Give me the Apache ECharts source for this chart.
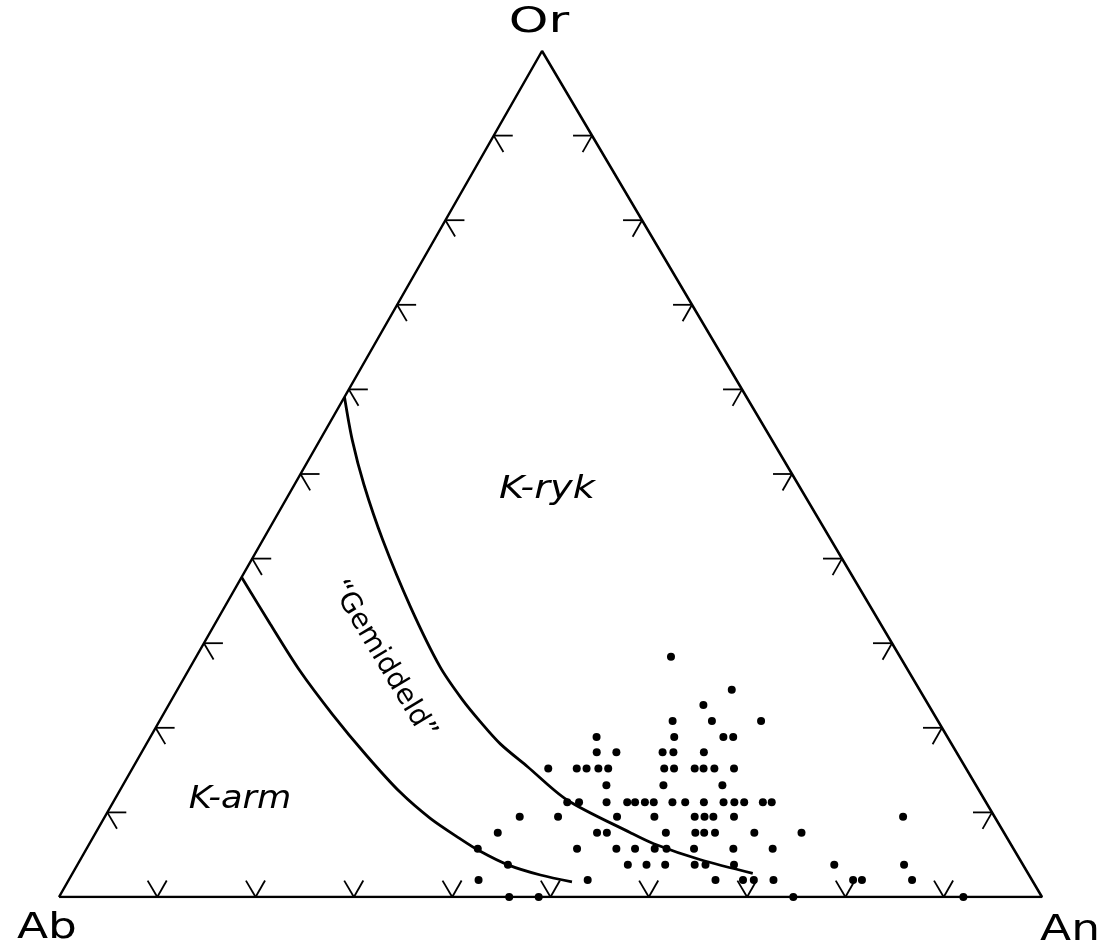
<!DOCTYPE html>
<html><head><meta charset="utf-8">
<script src="https://cdn.jsdelivr.net/npm/echarts@6/dist/echarts.min.js"></script>
<style>html,body{margin:0;padding:0;background:#fff}#c{width:1103px;height:948px}</style>
</head><body><div id="c"></div>
<script>
// Ternary diagram Ab - An - Or ; every point given as [An %, Or %] (Ab = 100 - An - Or)
const vertexLabels = { top: 'Or', left: 'Ab', right: 'An' };
const regionLabels = { kRyk: 'K-ryk', kArm: 'K-arm', middle: '“Gemiddeld”' };
const tickValues = [10, 20, 30, 40, 50, 60, 70, 80, 90];

const samplesAnOr = [
  [48.3,28.4],
  [56.4,24.5],
  [54.4,22.7],
  [52.2,20.8],[56.2,20.8],[61.2,20.8],
  [45.4,18.9],[53.3,18.9],[58.3,18.9],[59.3,18.9],
  [46.3,17.1],[48.3,17.1],[53.0,17.1],[54.1,17.1],[57.2,17.1],
  [42.3,15.2],[45.2,15.2],[46.2,15.2],[47.4,15.2],[48.4,15.2],[54.1,15.2],[55.1,15.2],[57.2,15.2],[58.1,15.2],[59.2,15.2],[61.2,15.2],
  [49.2,13.2],[55.0,13.2],[61.0,13.2],
  [46.2,11.2],[47.4,11.2],[50.2,11.2],[52.3,11.2],[53.1,11.2],[54.1,11.2],[55.0,11.2],[56.9,11.2],[58.2,11.2],[60.1,11.2],[62.1,11.2],[63.2,11.2],[64.2,11.2],[66.1,11.2],[67.0,11.2],
  [42.2,9.5],[46.1,9.5],[52.1,9.5],[55.9,9.5],[60.0,9.5],[61.0,9.5],[61.9,9.5],[64.0,9.5],[81.2,9.5],
  [40.9,7.6],[51.0,7.6],[52.0,7.6],[58.0,7.6],[61.0,7.6],[61.9,7.6],[63.0,7.6],[67.0,7.6],[71.8,7.6],
  [39.8,5.7],[49.9,5.7],[53.9,5.7],[55.8,5.7],[57.8,5.7],[59.0,5.7],[61.8,5.7],[65.8,5.7],[69.8,5.7],
  [43.8,3.8],[56.0,3.8],[57.9,3.8],[59.8,3.8],[62.8,3.8],[63.9,3.8],[66.8,3.8],[77.0,3.8],[84.1,3.8],
  [41.7,2.0],[52.8,2.0],[65.8,2.0],[68.6,2.0],[69.7,2.0],[71.7,2.0],[79.8,2.0],[80.7,2.0],[85.8,2.0],
  [45.8,0],[48.8,0],[74.7,0],[92.0,0]
];

const boundaryKryk = [
  [0,59.1],[3.3,54.0],[7.1,48.7],[12.2,42.2],[18.9,34.3],[25.4,27.2],[29.6,23.3],[32.7,20.7],
  [36.0,18.1],[40.1,15.4],[46.0,11.5],[54.4,7.6],[57.4,6.3],[63.1,4.4],[69.2,2.8]
];
const boundaryKarm = [
  [0,37.8],[5.6,32.3],[11.3,26.8],[17.2,21.6],[23.1,16.7],[28.6,12.4],[33.2,9.3],
  [37.4,6.9],[40.2,5.4],[43.8,3.8],[47.7,2.6],[51.3,1.8]
];

// slight skew of the printed triangle (apex not exactly above base midpoint)
const SKEW = 0.4914;
function toXY(p) { return [p[0] + SKEW * p[1], p[1]]; }

const triangle = [[0,0],[100,0],[0,100],[0,0]].map(toXY);
const tickData = [];
tickValues.forEach(t => { tickData.push([0, t]); tickData.push([1, t]); tickData.push([2, t]); });

const chart = echarts.init(document.getElementById('c'), null, { renderer: 'canvas' });
const FONT = '"DejaVu Sans", "Liberation Sans", sans-serif';

function label(x, y, text, font, sx, rot) {
  return { type: 'text', x: x, y: y, scaleX: sx || 1, rotation: rot || 0,
    style: { text: text, font: font, fill: '#000', textAlign: 'center', textVerticalAlign: 'middle' } };
}

chart.setOption({
  animation: false,
  backgroundColor: '#ffffff',
  grid: { left: 59, right: 61, top: 51, bottom: 51 },
  xAxis: { type: 'value', min: 0, max: 100, show: false },
  yAxis: { type: 'value', min: 0, max: 100, show: false },
  series: [
    {
      type: 'line', data: triangle, symbol: 'none', silent: true,
      lineStyle: { color: '#000', width: 2.5 }
    },
    {
      type: 'custom', data: tickData, silent: true, clip: false,
      renderItem(params, api) {
        const e = api.value(0), t = api.value(1);
        const pOr = api.coord(toXY([0,100])), pAb = api.coord(toXY([0,0])), pAn = api.coord(toXY([100,0]));
        const unit = (a, b) => { const dx = b[0]-a[0], dy = b[1]-a[1]; const l = Math.hypot(dx, dy); return [dx/l, dy/l]; };
        let pt, d1, d2;
        if (e === 0) { pt = api.coord(toXY([0, t])); d1 = [1, 0]; d2 = unit(pOr, pAn); }
        else if (e === 1) { pt = api.coord(toXY([100 - t, t])); d1 = [-1, 0]; d2 = unit(pOr, pAb); }
        else { pt = api.coord(toXY([t, 0])); d1 = unit(pAn, pOr); d2 = unit(pAb, pOr); }
        const L = 19;
        const st = { stroke: '#000', lineWidth: 1.8 };
        return { type: 'group', children: [
          { type: 'line', shape: { x1: pt[0], y1: pt[1], x2: pt[0] + d1[0]*L, y2: pt[1] + d1[1]*L }, style: st },
          { type: 'line', shape: { x1: pt[0], y1: pt[1], x2: pt[0] + d2[0]*L, y2: pt[1] + d2[1]*L }, style: st }
        ]};
      }
    },
    {
      type: 'line', data: boundaryKryk.map(toXY), symbol: 'none', smooth: 0.3, silent: true,
      lineStyle: { color: '#000', width: 2.8 }
    },
    {
      type: 'line', data: boundaryKarm.map(toXY), symbol: 'none', smooth: 0.3, silent: true,
      lineStyle: { color: '#000', width: 2.8 }
    },
    {
      type: 'scatter', data: samplesAnOr.map(toXY), symbol: 'circle', symbolSize: 8,
      itemStyle: { color: '#000', opacity: 1 }
    }
  ],
  graphic: [
    label(539, 23, vertexLabels.top, '36px ' + FONT, 1.4),
    label(47, 929, vertexLabels.left, '35px ' + FONT, 1.3),
    label(1070, 931, vertexLabels.right, '35px ' + FONT, 1.3),
    label(547, 490, regionLabels.kRyk, 'italic 32px ' + FONT, 1.2),
    label(240, 800, regionLabels.kArm, 'italic 32px ' + FONT, 1.1),
    label(383, 660, regionLabels.middle, '28px ' + FONT, 1, -59 * Math.PI / 180)
  ]
});
</script>
</body></html>
